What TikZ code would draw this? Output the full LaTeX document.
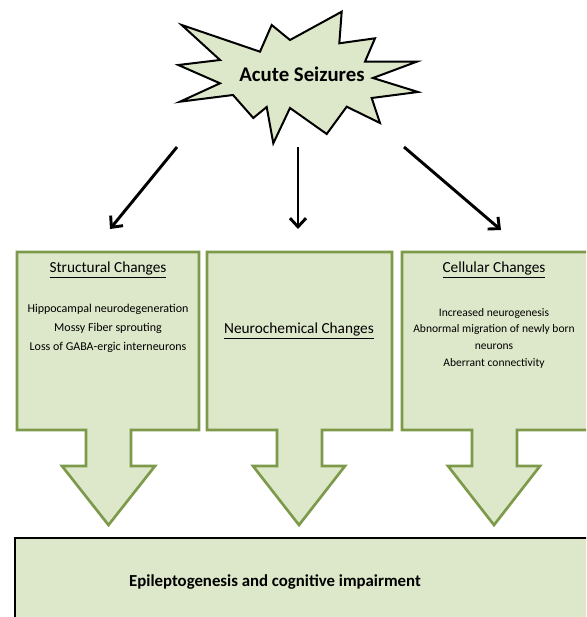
\documentclass[tikz,border=0pt]{standalone}
\usepackage{fontspec}
\setmainfont{Carlito}
\usetikzlibrary{arrows.meta}
\definecolor{boxfill}{HTML}{DDE7C9}
\definecolor{boxline}{HTML}{7D9A4A}
\begin{document}
\begin{tikzpicture}[x=0.75pt,y=-0.75pt,
  callout/.style={draw=boxline,fill=boxfill,line width=2pt,line join=miter},
  titletext/.style={font=\fontsize{11.5pt}{13pt}\selectfont,inner sep=0pt},
  listtext/.style={font=\fontsize{9pt}{14.25pt}\selectfont,align=center,inner sep=0pt},
  bigarrow/.style={line width=2.2pt,-{Straight Barb[length=6.5pt,width=12pt]}}]
\path[use as bounding box,clip] (0,0) rectangle (586,617);
% star
\draw[fill=boxfill,line width=1.5pt,line join=miter]
 (181.7,25)--(260,51.7)--(271.7,25)--(290,40)--(341.7,11.7)--(339.3,43.3)--(375,38.3)--(365,61.7)--(416.7,61.7)--(373,78)--(418,92)--(371.7,98)--(380,123)--(346.7,106.7)--(326.7,134)--(290,108)--(273.3,143.3)--(266.7,107)--(253.3,118)--(233,95)--(180,101.7)--(220,83.3)--(178.3,65)--(220,60)--cycle;
\node[font=\bfseries\fontsize{15.6pt}{18pt}\selectfont] (star) at (302,74) {Acute Seizures};
% callouts
\draw[callout] (17,252)--(199,252)--(199,430)--(131,430)--(131,466)--(155,466)--(108.5,525)--(62,466)--(86,466)--(86,430)--(17,430)--cycle;
\draw[callout] (207,252)--(392,252)--(392,430)--(322,430)--(322,466)--(345,466)--(299,525)--(253,466)--(277,466)--(277,430)--(207,430)--cycle;
\draw[callout] (402,252)--(590,252)--(590,430)--(517,430)--(517,466)--(540,466)--(494,525)--(448,466)--(472,466)--(472,430)--(402,430)--cycle;
% bottom box
\draw[fill=boxfill,line width=1.5pt] (15,538) rectangle (600,640);
\node[font=\bfseries\fontsize{12.6pt}{15pt}\selectfont] (epi) at (275,582) {Epileptogenesis and cognitive impairment};
% texts
\node[titletext] (st) at (108,270) {\underline{Structural Changes}};
\node[listtext,anchor=north] (stl) at (108,304) {Hippocampal neurodegeneration\\Mossy Fiber sprouting\\Loss of GABA-ergic interneurons};
\node[titletext] (nc) at (299,331) {\underline{Neurochemical Changes}};
\node[titletext] (cc) at (494,270) {\underline{Cellular Changes}};
\node[listtext,anchor=north,font=\fontsize{8.65pt}{12.5pt}\selectfont] (ccl) at (494,308) {Increased neurogenesis\\Abnormal migration of newly born\\neurons\\Aberrant connectivity};
% connectors
\coordinate (a1s) at (177,147); \coordinate (a1e) at (110,229);
\coordinate (a2s) at (298,147); \coordinate (a2e) at (298,229);
\coordinate (a3s) at (404,147); \coordinate (a3e) at (501,230);
\draw[bigarrow] (a1s) -- (a1e);
\draw[bigarrow] (a2s) -- (a2e);
\draw[bigarrow] (a3s) -- (a3e);
\end{tikzpicture}
\end{document}
